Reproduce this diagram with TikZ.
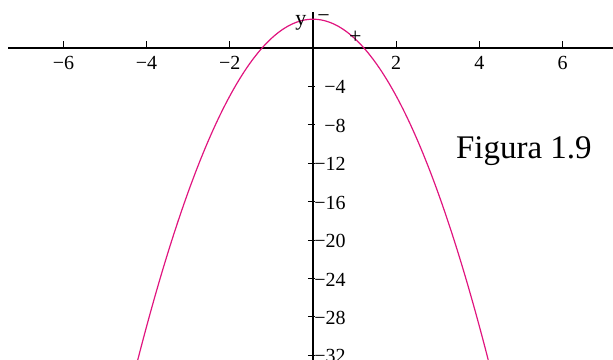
\documentclass[tikz,border=0pt]{standalone}
\usepackage{fontspec}
\setmainfont{Liberation Serif}
\usepackage{xcolor}
\usepackage{tikz}
\usetikzlibrary{positioning}
\definecolor{curvecol}{HTML}{E0157F}
\tikzset{
  axisline/.style={line width=0.7pt, black},
  tickmark/.style={line width=0.5pt, black},
  ticklabel/.style={font=\fontsize{10}{12}\selectfont, inner sep=0pt},
  parabola/.style={line width=0.6pt, curvecol},
  signlabel/.style={font=\fontsize{11}{13}\selectfont, inner sep=0pt}
}

\begin{document}
\begin{tikzpicture}[x=20.8pt, y=4.8pt]
  \useasboundingbox (-7.524,-32.5) rectangle (7.212,5.0);

  % axes
  \coordinate (xstart) at (-7.33,0);
  \coordinate (xend) at (7.3,0);
  \coordinate (ytop) at (0,3.75);
  \coordinate (ybot) at (0,-32.6);
  \draw[axisline] (xstart) -- (xend);
  \draw[axisline] (ytop) -- (ybot);

  % x ticks
  \foreach \t in {-6,-4,-2} {
    \draw[tickmark] (\t,0) -- ++(0,3.5pt);
    \node[ticklabel] (xl\t) at ([yshift=-7.5pt]\t,0) {−\pgfmathparse{int(-\t)}\pgfmathresult};
  }
  \foreach \t in {2,4,6} {
    \draw[tickmark] (\t,0) -- ++(0,3.5pt);
    \node[ticklabel] (xl\t) at ([yshift=-7.5pt]\t,0) {\t};
  }

  % y ticks
  \foreach \t in {4,8,...,32} {
    \draw[tickmark] ([xshift=-2.5pt]0,-\t) -- ([xshift=1pt]0,-\t);
    \node[ticklabel, anchor=east] (yl\t) at ([xshift=16.5pt,yshift=-0.5pt]0,-\t) {−\t};
  }

  % curve
  \draw[parabola] plot[domain=-4.213:4.213, samples=120, smooth] (\x,{3-2*\x*\x});

  \node[signlabel] (ylab) at ([xshift=-6pt]0,2.6) {y};
  \node[signlabel] (minus) at ([xshift=5.25pt]0,3.05) {−};
  \node[signlabel] (plus) at (1.02,1.1) {+};

  \node[font=\fontsize{16.5}{19}\selectfont, anchor=base west, inner sep=0pt] (fig) at (3.43,-11.5) {Figura 1.9};
\end{tikzpicture}
\end{document}
